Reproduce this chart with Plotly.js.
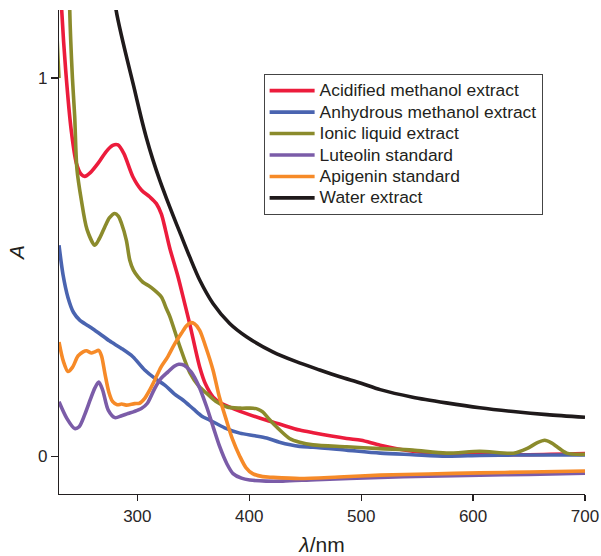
<!DOCTYPE html>
<html>
<head>
<meta charset="utf-8">
<script src="https://cdn.plot.ly/plotly-3.0.1.min.js"></script>
<style>html,body{margin:0;padding:0;background:#fff;}#chart{width:601px;height:556px;}</style>
</head>
<body>
<div id="chart"></div>
<script>
// Series names
const seriesNames = ["Acidified methanol extract","Anhydrous methanol extract","Ionic liquid extract","Luteolin standard","Apigenin standard","Water extract"];

// Acidified methanol extract
const acidWl = [230,232.4,236,241,245.5,250,253,258,265,272,278,282.7,288,296,303.6,311,317,321.5,325,329,336.4,342.3,346.8,355.7,361,367.6,375,385.6,400,415.5,427,445,457,487,500,517,546,576,606,650,700];
const acidA  = [1.35,1.18,1.02,0.86,0.775,0.745,0.74,0.75,0.775,0.805,0.822,0.823,0.80,0.739,0.704,0.686,0.668,0.64,0.60,0.55,0.474,0.404,0.35,0.236,0.19,0.157,0.14,0.126,0.11,0.095,0.085,0.069,0.062,0.047,0.042,0.029,0.013,0.006,0.004,0.004,0.007];

// Anhydrous methanol extract
const anhWl = [230,233.6,238,243,248.5,256,262,266.4,275,285.8,296,306.6,316,324.5,333,341,350,358,365,378,391.5,405,415.5,427,445,457,487,517,546,576,606,636,700];
const anhA  = [0.558,0.48,0.42,0.38,0.36,0.345,0.333,0.324,0.305,0.285,0.263,0.228,0.205,0.188,0.165,0.148,0.125,0.105,0.095,0.075,0.061,0.054,0.048,0.037,0.026,0.024,0.016,0.008,0.004,0.0,0.002,0.003,0.003];

// Ionic liquid extract
const ionWl = [230,230.6,239,239.6,242,244,246,250,255,262,266,271,275,279.8,283,285.8,290.2,293.2,296.5,300.6,305,309.5,315,321.5,326,329,338,347,355,362,370,380,392,403.5,408,412,418,424.5,436,445,457,487,517,546,576,606,636,648,657,664,670,675,683.6,700];
const ionA  = [1.0,1.4,1.4,1.18,1.0,0.9,0.76,0.677,0.6,0.558,0.575,0.607,0.63,0.642,0.635,0.616,0.571,0.519,0.492,0.474,0.46,0.452,0.44,0.421,0.39,0.37,0.29,0.22,0.185,0.166,0.145,0.13,0.127,0.127,0.124,0.117,0.097,0.077,0.047,0.037,0.03,0.025,0.02,0.016,0.008,0.013,0.008,0.02,0.035,0.042,0.035,0.025,0.008,0.005];

// Luteolin standard
const lutWl = [230,237,244,248,253,258,262,265.5,269,274,280,286,291.7,297,303.6,309,315.5,321,327.4,333,337,342,348,355,362,368,373.6,380,385.5,393,400.4,415,430,460,517,560,606,650,700];
const lutA  = [0.144,0.1,0.073,0.078,0.11,0.15,0.18,0.196,0.175,0.122,0.102,0.107,0.113,0.118,0.126,0.14,0.179,0.205,0.223,0.238,0.243,0.24,0.223,0.185,0.13,0.075,0.025,-0.02,-0.046,-0.058,-0.063,-0.066,-0.066,-0.062,-0.056,-0.053,-0.05,-0.048,-0.045];

// Apigenin standard
const apiWl = [230,234,238,242,247,251.5,254.5,259,262,265.5,268,271,274.5,278,282,286,290,297.6,302,306.6,311,315.5,321,327,333,339.4,344,347.5,351,355.7,361,367.6,373,379.6,385,391.5,397,403,412,421,445,480,517,560,606,650,700];
const apiA  = [0.302,0.25,0.224,0.235,0.265,0.276,0.279,0.273,0.276,0.28,0.265,0.219,0.17,0.144,0.136,0.138,0.135,0.139,0.14,0.153,0.175,0.201,0.235,0.262,0.295,0.325,0.345,0.353,0.35,0.333,0.29,0.228,0.16,0.095,0.045,0.0,-0.03,-0.046,-0.054,-0.056,-0.059,-0.055,-0.05,-0.047,-0.044,-0.042,-0.039];

// Water extract
const watWl = [275,281,297.6,303.6,308,314,320,326,332,338,346.8,355.7,367.6,382.5,397.5,421,442,463,481,500,517,546,576,606,636,666,700];
const watA  = [1.35,1.18,0.968,0.893,0.843,0.783,0.73,0.682,0.636,0.592,0.527,0.466,0.404,0.351,0.316,0.276,0.25,0.228,0.21,0.193,0.176,0.156,0.141,0.128,0.118,0.11,0.103];

const seriesColors = ["#ec1c3c","#4a64b0","#8b8b2c","#7b5ca8","#f68a28","#1f1a1b"];

// Axis ticks
const xTicks = [300,400,500,600,700];
const yTicks = [0,1];
const yTickLabels = ["0","1"];

const xs = [acidWl, anhWl, ionWl, lutWl, apiWl, watWl];
const ys = [acidA, anhA, ionA, lutA, apiA, watA];

const traces = seriesNames.map((n,i)=>({
  type:'scatter', mode:'lines',
  name:'<span style="font-size:17.4px">' + n + '</span>',
  x:xs[i], y:ys[i],
  line:{color:seriesColors[i], width:3.6, shape:'spline', smoothing:0.8}
}));

const axisColor = '#231f20';
const layout = {
  width:601, height:556,
  margin:{l:59, r:16, t:10, b:62},
  paper_bgcolor:'#fff', plot_bgcolor:'#fff',
  font:{family:'"Liberation Sans", Arial, sans-serif', color:'#2a2627', size:16},
  showlegend:true,
  legend:{
    x:0.389, y:0.868, xanchor:'left', yanchor:'top',
    bordercolor:'#444', borderwidth:1, bgcolor:'#fff',
    font:{size:14.2, color:'#231f20'},
    itemwidth:45, tracegroupgap:0
  },
  xaxis:{
    range:[230,700], tickvals:xTicks, ticktext:xTicks.map(String),
    showline:true, linecolor:axisColor, linewidth:1.2,
    ticks:'outside', ticklen:6, tickcolor:axisColor, tickwidth:1.2,
    showgrid:false, zeroline:false,
    tickfont:{size:17, color:'#2a2627'},
    title:{text:'<i>λ</i>/nm', font:{size:21, color:'#231f20'}, standoff:13}
  },
  yaxis:{
    range:[-0.1,1.18], tickvals:yTicks, ticktext:yTickLabels,
    showline:true, linecolor:axisColor, linewidth:1.2,
    ticks:'outside', ticklen:7, tickcolor:axisColor, tickwidth:1.2,
    showgrid:false, zeroline:false,
    tickfont:{size:17, color:'#2a2627'},
    title:{text:'<i>A</i>', font:{size:21, color:'#231f20'}, standoff:7}
  }
};

Plotly.newPlot('chart', traces, layout, {staticPlot:true, displayModeBar:false});
</script>
</body>
</html>
